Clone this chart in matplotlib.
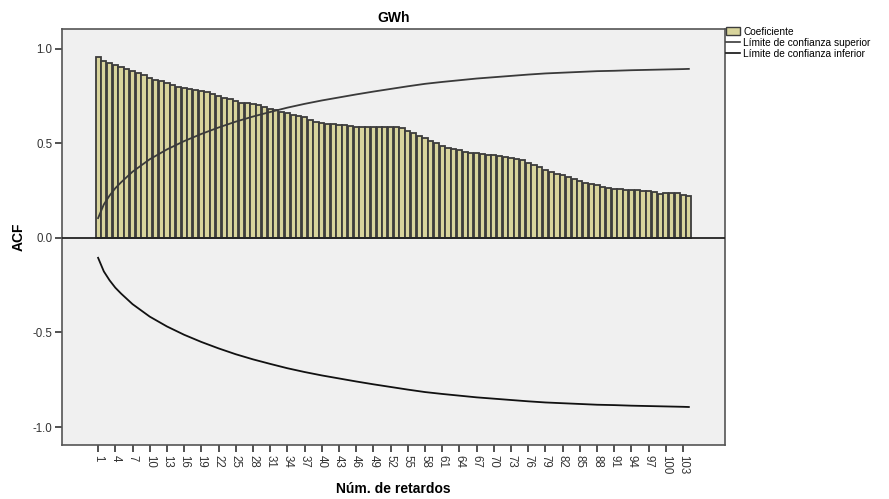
import matplotlib
matplotlib.use('Agg')
import matplotlib.pyplot as plt
from matplotlib.patches import Patch
from matplotlib.lines import Line2D

plt.rcParams['font.family'] = ['Liberation Sans', 'DejaVu Sans']

# autocorrelation coefficients, lags 1..104
acf = [0.959, 0.935, 0.925, 0.913, 0.904, 0.892, 0.883, 0.870, 0.860, 0.848,
       0.837, 0.828, 0.819, 0.810, 0.800, 0.791, 0.786, 0.780, 0.775, 0.771,
       0.761, 0.750, 0.742, 0.733, 0.724, 0.715, 0.712, 0.708, 0.703, 0.694,
       0.683, 0.675, 0.668, 0.659, 0.650, 0.644, 0.639, 0.626, 0.615, 0.610,
       0.604, 0.601, 0.595, 0.595, 0.592, 0.588, 0.585, 0.585, 0.585, 0.588,
       0.586, 0.585, 0.585, 0.583, 0.567, 0.555, 0.540, 0.528, 0.515, 0.500,
       0.488, 0.477, 0.468, 0.463, 0.454, 0.451, 0.447, 0.443, 0.440, 0.437,
       0.433, 0.428, 0.422, 0.419, 0.412, 0.395, 0.385, 0.376, 0.361, 0.348,
       0.340, 0.331, 0.324, 0.313, 0.301, 0.292, 0.287, 0.278, 0.269, 0.263,
       0.260, 0.257, 0.255, 0.254, 0.252, 0.250, 0.247, 0.242, 0.235, 0.237,
       0.237, 0.236, 0.229, 0.222]
lags = list(range(1, len(acf) + 1))

# upper confidence limit read at selected lags (lower limit is its mirror)
conf_lags = [1, 2, 3, 4, 5, 7, 10, 13, 16, 19, 22, 25, 28, 31, 34, 37, 40, 43,
             46, 49, 52, 55, 58, 61, 64, 67, 70, 73, 76, 79, 82, 85, 88, 91,
             94, 97, 100, 103, 104]
conf_upper = [0.105, 0.177, 0.224, 0.263, 0.294, 0.350, 0.416, 0.468, 0.512,
              0.550, 0.584, 0.615, 0.642, 0.666, 0.689, 0.709, 0.727, 0.743,
              0.759, 0.774, 0.788, 0.802, 0.815, 0.825, 0.834, 0.843, 0.850,
              0.857, 0.864, 0.870, 0.874, 0.878, 0.882, 0.884, 0.887, 0.889,
              0.891, 0.893, 0.894]
conf_lower = [-v for v in conf_upper]

tick_lags = list(range(1, 105, 3))

fig = plt.figure(figsize=(8.89, 4.99), dpi=100)
ax = fig.add_axes([0.0697, 0.1082, 0.7458, 0.8337])
ax.set_facecolor('#f0f0f0')

ax.bar(lags, acf, width=0.9, color='#d8d49c', edgecolor='#3c3c3c', linewidth=1.3, zorder=2)
ax.plot(conf_lags, conf_upper, color='#3a3a3a', lw=1.3, zorder=3)
ax.plot(conf_lags, conf_lower, color='#111111', lw=1.3, zorder=3)
ax.axhline(0, color='#222222', lw=1.3, zorder=4)

ax.set_xlim(-5.3, 110.3)
ax.set_ylim(-1.095, 1.105)
ax.set_xticks(tick_lags)
ax.set_xticklabels([str(t) for t in tick_lags], rotation=-90, fontsize=8.3, color='#333333')
ax.set_yticks([-1.0, -0.5, 0.0, 0.5, 1.0])
ax.set_yticklabels(['-1.0', '-0.5', '0.0', '0.5', '1.0'], fontsize=8.3, color='#333333')
ax.tick_params(axis='both', direction='out', length=5, width=1.2, color='#333333', pad=2)
for s in ax.spines.values():
    s.set_color('#555555')
    s.set_linewidth(1.2)

ax.set_title('GWh', fontsize=10, fontweight='bold', pad=5)
ax.set_ylabel('ACF', fontsize=10, fontweight='bold', labelpad=5)
ax.set_xlabel('Núm. de retardos', fontsize=10, fontweight='bold', labelpad=6)

handles = [Patch(facecolor='#d8d49c', edgecolor='#3c3c3c', linewidth=1.0),
           Line2D([0], [0], color='#3a3a3a', lw=1.2),
           Line2D([0], [0], color='#111111', lw=1.2)]
fig.legend(handles, ['Coeficiente', 'Límite de confianza superior', 'Límite de confianza inferior'],
           loc='upper left', bbox_to_anchor=(0.812, 0.955), frameon=False, fontsize=7.3,
           handlelength=1.4, handleheight=0.9, handletextpad=0.3, labelspacing=0.1,
           borderaxespad=0)

fig.savefig('out.png', dpi=100)
